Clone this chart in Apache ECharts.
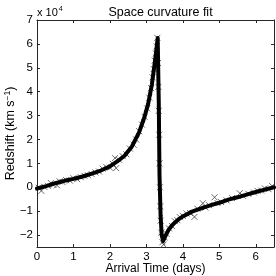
<!DOCTYPE html>
<html><head><meta charset="utf-8">
<script src="https://cdn.jsdelivr.net/npm/echarts@6/dist/echarts.min.js"></script>
<style>html,body{margin:0;padding:0;background:#fff}#c{width:276px;height:276px}</style>
</head><body><div id="c"></div>
<script>
// values in units of 10^4 km/s
const fitX = [0,0.25,0.5,0.75,1.0,1.25,1.5,1.75,2.0,2.2,2.4,2.6,2.8,2.95,3.05,3.15,3.22,3.27,3.31,3.34,3.36,3.39,3.42,3.46,3.52,3.6,3.7,3.8,3.9,4.0,4.25,4.5,4.75,5.0,5.25,5.5,5.75,6.0,6.25,6.5];
const fitY = [-0.05,0.05,0.17,0.27,0.35,0.45,0.57,0.70,0.87,1.08,1.32,1.70,2.30,2.95,3.5,4.3,5.1,5.7,6.25,3.5,0.5,-1.2,-2.0,-2.25,-2.05,-1.8,-1.6,-1.45,-1.32,-1.22,-1.02,-0.88,-0.76,-0.65,-0.52,-0.42,-0.31,-0.2,-0.1,0.0];
const obsX = [0.05,0.12,0.2,0.3,0.38,0.45,0.55,0.62,0.7,0.8,0.9,1.0,1.1,1.2,1.3,1.4,1.5,1.6,1.7,1.8,1.9,2.0,2.08,2.14,2.17,2.25,2.35,2.45,2.55,2.65,2.72,2.8,2.88,2.95,3.02,3.08,3.13,3.17,3.2,3.23,3.26,3.28,3.3,3.32,3.33,3.34,3.35,3.36,3.37,3.38,3.39,3.41,3.44,3.47,3.5,3.55,3.62,3.7,3.78,3.85,3.92,4.0,4.1,4.2,4.32,4.4,4.55,4.62,4.72,4.87,4.95,5.05,5.2,5.35,5.56,5.65,5.8,5.95,6.05,6.15,6.25,6.35,6.45];
const obsY = [-0.02,-0.15,0.02,0.06,0.18,0.1,0.08,0.25,0.22,0.3,0.28,0.38,0.34,0.42,0.48,0.5,0.55,0.62,0.66,0.78,0.85,0.82,0.98,1.22,0.8,1.15,1.3,1.38,1.62,1.78,2.0,2.35,2.62,2.95,3.3,3.75,4.15,4.6,4.95,5.3,5.6,5.9,6.25,5.2,4.2,3.2,2.2,1.0,0.0,-0.8,-1.4,-1.9,-2.3,-2.4,-2.1,-1.95,-1.72,-1.62,-1.42,-1.38,-1.25,-1.2,-1.1,-1.08,-1.24,-0.9,-0.67,-0.85,-0.75,-0.42,-0.66,-0.62,-0.55,-0.45,-0.25,-0.36,-0.28,-0.22,-0.15,-0.14,-0.05,-0.08,0.05];
const xTicks = [0,1,2,3,4,5,6];
const yTicks = [-2,-1,0,1,2,3,4,5,6,7];
const titleText = 'Space curvature fit';
const xName = 'Arrival Time (days)';

const FONT = 'Liberation Sans, Arial, sans-serif';
const minus = v => String(v).replace('-', '\u2212');
const fitData = fitX.map((x,i)=>[x,fitY[i]]);
const obsData = obsX.map((x,i)=>[x,obsY[i]]);
const lineC = '#262626';
const chart = echarts.init(document.getElementById('c'), null, {renderer:'canvas'});
const axisCommon = {
  axisLine:{show:true, onZero:false, lineStyle:{color:lineC, width:1}},
  splitLine:{show:false}
};
const tickX = {show:true, inside:true, length:3, customValues:xTicks, lineStyle:{color:lineC}};
const tickY = {show:true, inside:true, length:3, customValues:yTicks, lineStyle:{color:lineC}};
chart.setOption({
  animation:false,
  title:{text:titleText, left:155.5, top:1, textAlign:'center',
    textStyle:{fontFamily:FONT, fontSize:12.5, fontWeight:'normal', color:'#000'}},
  graphic:[{type:'text', left:37, top:6, style:{
    text:'x 10{s|4}', font:'11px '+FONT, fill:'#000',
    rich:{s:{fontSize:7, fontFamily:FONT, verticalAlign:'top', padding:[0,0,6,1]}}}}],
  grid:{left:37, right:2, top:20, bottom:29, containLabel:false, outerBoundsMode:'none'},
  xAxis:[
    Object.assign({type:'value', min:0, max:6.5, position:'bottom',
      name:xName, nameLocation:'middle', nameGap:16, nameMoveOverlap:false,
      nameTextStyle:{fontFamily:FONT, fontSize:12, color:'#000'},
      axisLabel:{show:true, customValues:xTicks, margin:4, fontFamily:FONT, fontSize:11.5, color:'#000'},
      axisTick:tickX}, axisCommon),
    Object.assign({type:'value', min:0, max:6.5, position:'top', axisLabel:{show:false}, axisTick:tickX}, axisCommon)
  ],
  yAxis:[
    Object.assign({type:'value', min:-2.5, max:7, position:'left',
      name:'Redshift (km s{s|\u22121})', nameLocation:'middle', nameGap:19, nameMoveOverlap:false,
      nameTextStyle:{fontFamily:FONT, fontSize:12.5, color:'#000',
        rich:{s:{fontSize:8.5, fontFamily:FONT, verticalAlign:'top', padding:[0,0,6,0]}}},
      axisLabel:{show:true, customValues:yTicks, margin:4, fontFamily:FONT, fontSize:11.5, color:'#000', formatter:minus},
      axisTick:tickY}, axisCommon),
    Object.assign({type:'value', min:-2.5, max:7, position:'right', axisLabel:{show:false}, axisTick:tickY}, axisCommon)
  ],
  series:[
    {type:'scatter', data:obsData, symbol:'path://M0,0 L10,10 M10,0 L0,10', symbolSize:6, z:2,
      itemStyle:{color:'none', borderColor:'#444', borderWidth:1}},
    {type:'line', data:fitData, showSymbol:false, symbol:'none', z:3,
      lineStyle:{color:'#000', width:4, join:'round', cap:'round'}}
  ]
});
</script></body></html>
